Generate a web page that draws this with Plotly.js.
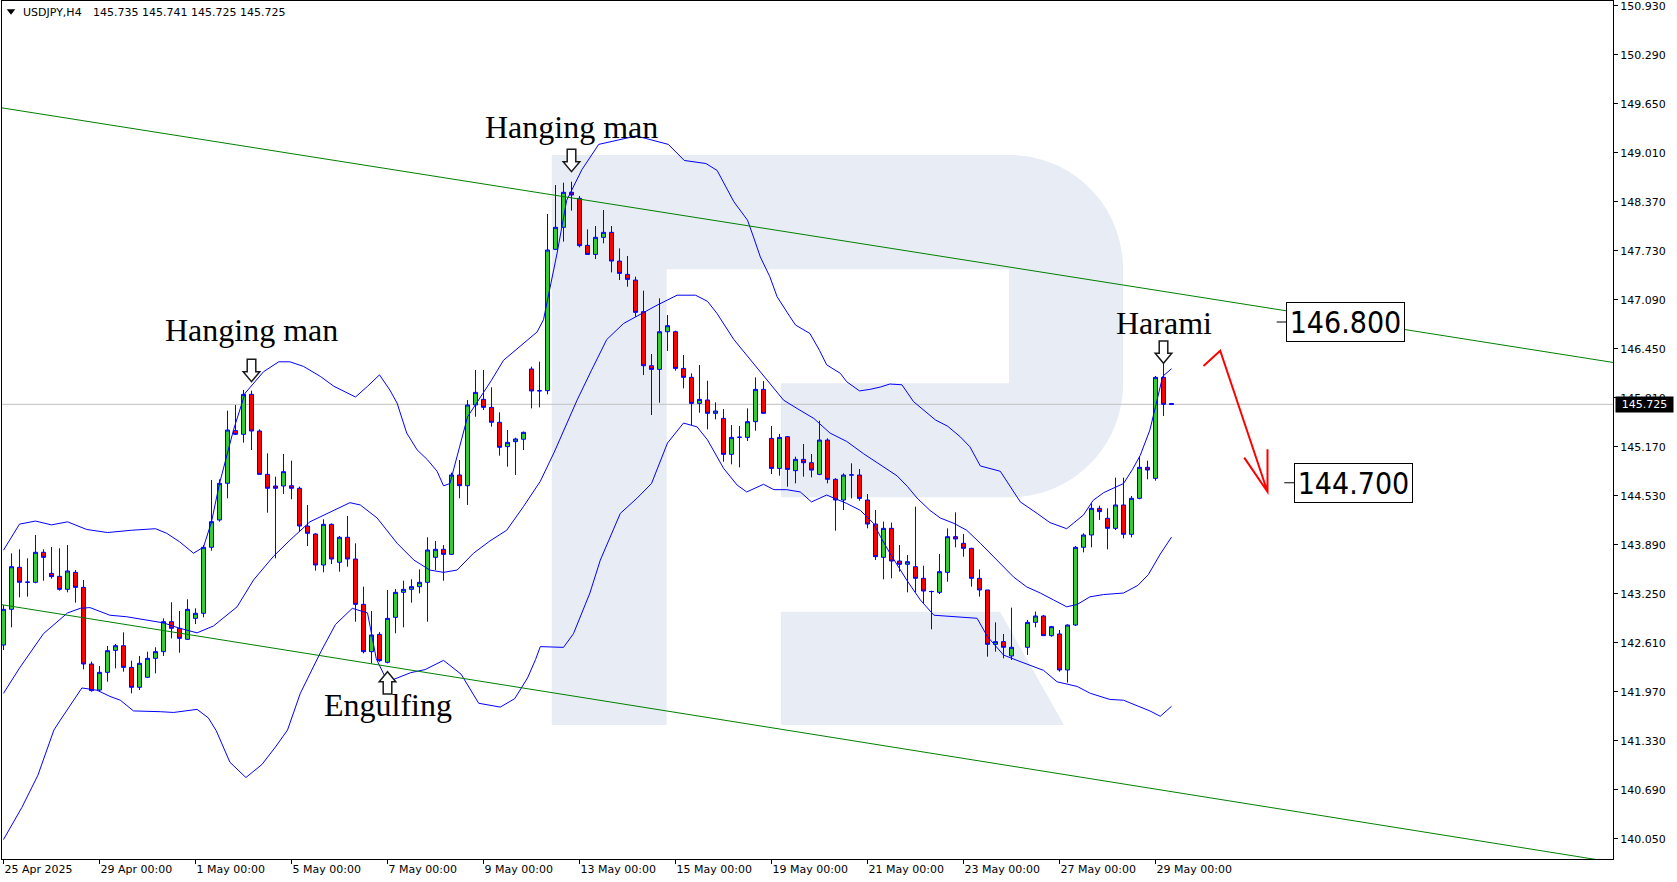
<!DOCTYPE html>
<html><head><meta charset="utf-8">
<script src="https://cdn.plot.ly/plotly-3.0.1.min.js"></script>
<style>html,body{margin:0;padding:0;background:#fff;}#chart{width:1677px;height:882px;}</style>
</head><body><div id="chart"></div>
<script>
// ---------------- DATA ----------------
const open = [
142.581,143.047,143.596,143.400,143.400,143.792,143.517,143.478,143.308,143.530,
143.334,142.333,141.993,142.224,142.511,142.572,142.289,142.028,142.159,142.407,
142.494,142.886,142.799,142.655,142.929,142.995,143.857,144.214,144.693,145.381,
145.333,145.855,145.376,144.810,144.658,144.658,144.662,144.628,144.135,144.031,
143.626,144.157,143.661,143.988,143.704,143.112,142.494,142.720,142.355,142.942,
143.269,143.308,143.343,143.400,143.726,143.831,143.765,144.802,144.662,145.716,
145.790,145.685,145.490,145.172,145.237,145.268,146.186,145.899,145.903,147.749,
148.037,148.494,148.415,147.801,147.683,147.906,147.971,147.596,147.422,147.348,
146.935,146.229,146.181,146.673,146.673,146.194,146.077,145.737,145.781,145.607,
145.541,145.071,145.293,145.293,145.498,145.920,145.280,144.888,145.302,144.858,
145.006,144.962,144.810,145.258,144.745,144.475,144.801,144.801,144.475,144.161,
143.726,144.105,143.678,143.635,143.604,143.452,143.278,143.269,143.530,143.996,
143.909,143.844,143.452,143.300,142.590,142.625,142.438,null,142.551,142.877,
142.960,142.703,142.725,142.255,142.842,143.857,144.018,144.366,144.236,144.105,
144.410,144.027,144.497,144.902,144.758,146.077,145.735];
const high = [
143.104,143.778,143.831,143.713,144.018,143.831,143.861,143.844,143.887,143.561,
143.430,142.364,142.307,142.568,142.594,142.747,142.377,142.438,142.494,142.551,
142.929,143.139,143.025,143.178,143.060,143.887,144.736,144.745,145.642,145.716,
145.912,145.903,145.398,145.085,144.780,145.076,144.989,144.650,144.410,144.040,
144.223,144.170,144.005,144.266,143.909,143.343,143.025,142.750,143.299,143.313,
143.421,143.439,143.569,143.988,143.940,143.887,144.832,144.997,145.781,146.173,
146.173,145.947,145.620,145.389,145.289,145.368,146.217,146.282,148.211,148.589,
148.620,148.633,148.446,148.010,148.054,148.263,148.054,147.762,147.662,147.392,
147.209,146.382,147.109,146.891,146.686,146.369,146.129,146.238,146.033,145.750,
145.663,145.454,145.441,145.672,146.077,146.029,145.441,145.337,145.310,145.041,
145.206,145.076,145.511,145.280,144.760,144.823,144.954,144.880,144.553,144.344,
144.192,144.179,143.887,143.757,144.388,143.617,143.291,143.770,144.105,144.314,
144.031,143.850,143.569,143.300,142.877,142.725,143.069,null,142.908,143.017,
142.973,142.830,142.777,142.850,143.874,144.040,144.432,144.401,144.366,144.767,
144.767,144.527,145.041,144.989,146.095,146.260,145.741];
const low = [
142.516,142.812,143.204,143.213,143.387,143.421,143.448,143.291,143.269,143.134,
142.263,141.972,141.972,142.102,142.276,142.233,141.950,141.993,142.150,142.211,
142.438,142.668,142.481,142.647,142.855,142.943,143.813,144.192,144.497,145.324,
145.224,145.128,144.802,144.310,143.713,144.554,144.484,144.061,143.874,143.552,
143.530,143.639,143.539,143.604,142.886,142.472,142.341,142.363,142.341,142.734,
142.812,143.134,143.256,142.886,143.561,143.421,143.757,144.497,144.410,145.563,
145.651,145.433,145.054,144.910,144.802,145.128,145.672,145.685,145.855,147.740,
147.850,148.254,147.775,147.675,147.622,147.827,147.448,147.348,147.261,146.869,
146.107,145.585,145.746,146.421,146.164,145.933,145.454,145.615,145.398,145.528,
144.975,144.941,144.901,145.245,145.380,145.600,144.814,144.793,144.649,144.692,
144.780,144.771,144.800,144.692,144.074,144.344,144.496,144.466,144.105,143.691,
143.439,143.452,143.539,143.269,143.269,143.126,142.786,143.247,143.408,143.857,
143.735,143.343,143.213,142.429,142.494,142.407,142.385,null,142.451,142.812,
142.700,142.690,142.233,142.089,142.830,143.791,143.857,144.214,143.831,144.083,
143.974,143.987,144.484,144.745,144.728,145.572,145.725];
const close = [
143.047,143.604,143.400,143.402,143.792,143.726,143.474,143.308,143.548,143.334,
142.333,141.985,142.224,142.507,142.572,142.289,142.028,142.342,142.407,142.494,
142.886,142.799,142.668,143.047,142.995,143.857,144.192,144.693,145.389,145.333,
145.855,145.376,144.810,144.628,144.628,144.845,144.628,144.135,144.040,143.626,
144.157,143.704,143.988,143.704,143.112,142.494,142.712,142.376,142.929,143.269,
143.308,143.343,143.400,143.822,143.831,143.765,144.802,144.662,145.716,145.881,
145.685,145.490,145.163,145.228,145.272,145.359,145.899,145.903,147.740,148.037,
148.494,148.459,147.797,147.683,147.906,147.971,147.596,147.435,147.357,146.926,
146.229,146.181,146.673,146.752,146.194,146.077,145.737,145.789,145.607,145.637,
145.071,145.293,145.295,145.498,145.920,145.607,144.888,145.293,144.875,145.006,
144.962,144.866,145.258,144.745,144.475,144.801,144.803,144.496,144.161,143.735,
144.105,143.678,143.635,143.669,143.452,143.286,143.280,143.539,143.996,143.966,
143.844,143.452,143.300,142.590,142.625,142.551,142.551,null,142.877,142.960,
142.703,142.821,142.255,142.842,143.857,144.018,144.366,144.323,144.105,144.410,
144.027,144.497,144.902,144.867,146.077,145.725,145.725];

// Bollinger bands (bar position, price)
const bbUpperX = [0,2,4,6,8,10.4,13,16,19,20.4,22,23.75,25,26,27,28.75,30.2,32.5,34.4,35.8,37.5,39.6,41.3,44,45.5,47,48.3,49.2,50.4,51.7,53,54.2,55,55.8,58,61,62.5,64.6,66.7,67.5,69.2,70.4,72.3,74.4,79.1,83.1,85.1,87.8,89.2,91.3,93,93.75,94.6,95.8,96.7,98.3,99,100.8,102,102.9,104.6,105.4,107,108.3,109.6,110.8,112.3,113.75,115,116.5,118,119.6,120.8,122.1,124.6,125.8,127.1,129.2,130.8,132.9,135,136.2,137.5,140,141.1,142.1,143.3,143.9,144.9,146];
const bbUpperY = [143.82,144.16,144.20,144.15,144.19,144.09,144.05,144.08,144.10,144.04,143.93,143.78,143.86,144.19,144.69,145.39,145.87,146.15,146.28,146.28,146.22,146.09,145.96,145.82,145.96,146.11,145.91,145.74,145.35,145.13,145.00,144.85,144.66,144.69,145.56,146.04,146.30,146.48,146.67,146.83,147.70,148.39,148.79,149.12,149.23,149.12,148.91,148.87,148.78,148.37,148.13,147.91,147.65,147.39,147.13,146.87,146.76,146.65,146.43,146.24,146.13,146.02,145.90,145.92,145.95,145.99,145.98,145.76,145.65,145.52,145.44,145.30,145.17,144.92,144.85,144.65,144.45,144.30,144.18,144.10,144.28,144.47,144.57,144.69,144.87,145.06,145.39,145.65,146.09,146.19];
const bbMidX = [0,2,5,8,9.6,10.8,13.3,15.4,20,22,24.2,26.25,29.2,31.25,33.75,35.8,38.3,41.3,43.3,44.6,46.7,49.2,51.3,53.3,55,56.7,58.75,60.8,62.9,65,67.1,68.8,71.7,73.5,75.4,77.5,79.6,81.7,84.2,86.5,88,89.2,91.3,93.75,95.4,97.5,99.2,101.3,103.3,105.4,107.5,109.6,111.7,113,114.2,115.8,117.1,118.8,120.4,122.1,124.2,126.25,127.9,129.6,131.25,132.9,134.2,135.8,137.5,140,141.8,143.1,144.6,146];
const bbMidY = [141.95,142.28,142.73,143.00,143.06,143.07,142.97,142.95,142.87,142.80,142.74,142.83,143.08,143.43,143.74,143.95,144.19,144.34,144.44,144.41,144.24,143.91,143.69,143.56,143.53,143.56,143.78,143.94,144.08,144.39,144.72,145.09,145.78,146.17,146.57,146.78,146.90,147.02,147.15,147.15,147.07,146.91,146.57,146.26,146.04,145.78,145.67,145.54,145.35,145.24,145.08,144.93,144.79,144.65,144.50,144.34,144.24,144.17,144.08,143.91,143.69,143.47,143.34,143.26,143.17,143.08,143.11,143.21,143.24,143.26,143.36,143.50,143.77,143.99];
const bbLowerX = [0,2.3,4.3,6.3,7.1,9.8,11.7,13.3,14.6,16.25,19.6,21.25,24.2,25.6,26.6,28.3,30.3,32.3,34,35.5,37.1,39.7,41.5,43.6,45.5,46.6,48,50.9,52.7,55,57.2,59.4,62.1,63.9,65.5,66.5,67.1,70,71.25,72.5,73.3,74.6,77.1,79.2,81,83,85,86.7,88,90,91.7,92.9,95,96.3,97.9,99.6,101,102.9,105.4,107.1,108.75,109.6,110.8,112.9,114.6,116.3,119.2,121.7,123,125,126.7,130,131.7,134.2,135.85,138.3,140,143.3,144.6,146];
const bbLowerY = [140.04,140.46,140.88,141.47,141.60,142.02,141.99,141.91,141.86,141.72,141.71,141.70,141.74,141.63,141.46,141.05,140.85,141.02,141.25,141.47,141.95,142.50,142.85,143.06,143.00,142.40,142.10,142.22,142.26,142.38,142.20,141.82,141.77,141.88,142.15,142.39,142.56,142.55,142.73,143.04,143.26,143.69,144.30,144.50,144.69,145.22,145.48,145.43,145.26,144.89,144.67,144.58,144.68,144.61,144.61,144.58,144.45,144.54,144.43,144.34,144.17,144.00,143.78,143.43,143.17,142.97,142.95,142.93,142.69,142.45,142.38,142.25,142.10,142.04,141.95,141.87,141.86,141.72,141.65,141.78];

// channel lines (end points)
const upperTrendX = [-0.2, 201.3];
const upperTrendY = [149.597, 146.270];
const lowerTrendX = [-0.2, 200];
const lowerTrendY = [143.107, 139.764];

// axis ticks
const priceTicks = [140.05,140.69,141.33,141.97,142.61,143.25,143.89,144.53,145.17,145.81,146.45,147.09,147.73,148.37,149.01,149.65,150.29,150.93];
const tickBars = [0,12,24,36,48,60,72,84,96,108,120,132,144];
const tickLabels = ['25 Apr 2025','29 Apr 00:00','1 May 00:00','5 May 00:00','7 May 00:00','9 May 00:00','13 May 00:00','15 May 00:00','19 May 00:00','21 May 00:00','23 May 00:00','27 May 00:00','29 May 00:00'];

// pattern marks
const patternNames = ['Hanging man','Hanging man','Engulfing','Harami'];
const patternBars = [31, 71, 48, 145];
const patternSide = ['high','high','low','high'];

// target levels and forecast arrow
const levelValues = [146.800, 144.700];
const levelLabels = ['146.800', '144.700'];
const levelBoxBars = [160.31, 161.35];
const levelTickBars = [159.15, 160.10];
const forecastX = [150.0, 152.09, 158.0];
const forecastY = [146.225, 146.425, 144.583];
const headX = [158.0, 158.0, 155.09];
const headY = [145.137, 144.583, 145.028];

const headerSymbol = 'USDJPY,H4';
const headerPrices = '145.735 145.741 145.725 145.725';

// ---------------- STYLE / LAYOUT ----------------
const W = 1677, H = 882, ML = 2, MR = 64, MT = 1, MB = 23;
const PW = W - ML - MR, PH = H - MT - MB;
function P(x, y) { return ((x - ML) / PW).toFixed(5) + ',' + ((H - MB - y) / PH).toFixed(5); }

const idx = open.map((_, i) => i);
const lastClose = close[close.length - 1];

const traces = [
  {
    type: 'candlestick', x: idx, open: open, high: high, low: low, close: close,
    increasing: {line: {color: '#0000FF', width: 1}, fillcolor: '#32CD32'},
    decreasing: {line: {color: '#0000FF', width: 1}, fillcolor: '#FF0000'},
    whiskerwidth: 0, hoverinfo: 'skip', showlegend: false
  },
  {type: 'scatter', mode: 'lines', x: bbUpperX, y: bbUpperY, line: {color: '#0000FF', width: 1}, hoverinfo: 'skip'},
  {type: 'scatter', mode: 'lines', x: bbMidX, y: bbMidY, line: {color: '#0000FF', width: 1}, hoverinfo: 'skip'},
  {type: 'scatter', mode: 'lines', x: bbLowerX, y: bbLowerY, line: {color: '#0000FF', width: 1}, hoverinfo: 'skip'},
  {type: 'scatter', mode: 'lines', x: upperTrendX, y: upperTrendY, line: {color: '#008000', width: 1}, hoverinfo: 'skip'},
  {type: 'scatter', mode: 'lines', x: lowerTrendX, y: lowerTrendY, line: {color: '#008000', width: 1}, hoverinfo: 'skip'}
];

// watermark "R"
const rPath =
  'M' + P(551.7,155) + ' L' + P(1010,155) +
  ' C' + P(1072.4,155) + ' ' + P(1123,205.6) + ' ' + P(1123,268) +
  ' L' + P(1123,384.3) +
  ' C' + P(1123,446.7) + ' ' + P(1072.4,497.3) + ' ' + P(1010,497.3) +
  ' L' + P(781,497.3) + ' L' + P(781,383.3) + ' L' + P(1009,383.3) + ' L' + P(1009,269.3) +
  ' L' + P(666.7,269.3) + ' L' + P(666.7,725) + ' L' + P(551.7,725) + ' Z' +
  ' M' + P(781,611.7) + ' L' + P(1000,611.7) + ' L' + P(1064,725) + ' L' + P(781,725) + ' Z';

const shapes = [
  {type: 'path', xref: 'paper', yref: 'paper', path: rPath, fillcolor: '#E8EDF5', line: {width: 0}, layer: 'below'},
  {type: 'line', xref: 'paper', yref: 'y', x0: 0, x1: 1, y0: lastClose, y1: lastClose, line: {color: '#C0C0C0', width: 1}, layer: 'below'},
  // header triangle
  {type: 'path', xref: 'paper', yref: 'paper', xsizemode: 'pixel', ysizemode: 'pixel', xanchor: 0, yanchor: 1,
   path: 'M 4.7,-8.3 L 13.3,-8.3 L 9,-13.7 Z', fillcolor: '#000', line: {width: 0}}
];

const arrowGap = [9, 10, 8.3, 0];
const textShift = [60.7, 54.7, -41.6, 40.8];
function downArrow(g) { const t = g + 22.4, m = g + 10; return `M -4.3,${t} L 4.3,${t} L 4.3,${m} L 8.3,${m} L 0,${g} L -8.3,${m} L -4.3,${m} Z`; }
function upArrow(g) { const t = -g, m = -g - 10, b = -g - 22.4; return `M -4.3,${b} L 4.3,${b} L 4.3,${m} L 8.3,${m} L 0,${t} L -8.3,${m} L -4.3,${m} Z`; }

const annotations = [];
patternBars.forEach((b, k) => {
  const isHigh = patternSide[k] === 'high';
  const anchor = isHigh ? high[b] : low[b];
  shapes.push({type: 'path', xref: 'x', yref: 'y', xsizemode: 'pixel', ysizemode: 'pixel', xanchor: b, yanchor: anchor,
    path: isHigh ? downArrow(arrowGap[k]) : upArrow(arrowGap[k]), fillcolor: '#FFFFFF', line: {color: '#1A1A1A', width: 1.5}});
  annotations.push({x: b, y: anchor, xref: 'x', yref: 'y', yshift: textShift[k], text: patternNames[k], showarrow: false,
    xanchor: 'center', yanchor: 'middle', font: {family: 'Liberation Serif, Times New Roman, serif', size: 32, color: '#000'}});
});

levelValues.forEach((v, k) => {
  shapes.push({type: 'line', xref: 'x', yref: 'y', x0: levelTickBars[k], x1: levelBoxBars[k], y0: v, y1: v, line: {color: '#000', width: 1}});
  annotations.push({x: levelBoxBars[k], y: v, xref: 'x', yref: 'y', text: levelLabels[k], showarrow: false,
    xanchor: 'left', yanchor: 'middle', width: 115, height: 36, align: 'center', valign: 'middle',
    bgcolor: '#FFFFFF', bordercolor: '#000', borderwidth: 1, borderpad: 1,
    font: {family: 'DejaVu Sans Condensed, Liberation Sans, sans-serif', size: 30, color: '#000'}});
});

// forecast arrow
let fp = 'M ' + forecastX[0] + ',' + forecastY[0];
for (let i = 1; i < forecastX.length; i++) fp += ' L ' + forecastX[i] + ',' + forecastY[i];
fp += ' M ' + headX[0] + ',' + headY[0];
for (let i = 1; i < headX.length; i++) fp += ' L ' + headX[i] + ',' + headY[i];
shapes.push({type: 'path', xref: 'x', yref: 'y', path: fp, line: {color: '#FF0000', width: 2}});

// header texts
annotations.push({xref: 'paper', yref: 'paper', x: (21.7 - ML) / PW, y: (H - MB - 12.9) / PH, text: headerSymbol, showarrow: false,
  xanchor: 'left', yanchor: 'middle', font: {family: 'DejaVu Sans', size: 11, color: '#000'}, borderpad: 0});
annotations.push({xref: 'paper', yref: 'paper', x: (91.7 - ML) / PW, y: (H - MB - 12.9) / PH, text: headerPrices, showarrow: false,
  xanchor: 'left', yanchor: 'middle', font: {family: 'DejaVu Sans', size: 11, color: '#000'}, borderpad: 0});

// current price tag on the axis (covers the neighbouring scale label, as in the original)
annotations.push({xref: 'paper', yref: 'y', x: 1, xshift: 2, y: lastClose, text: lastClose.toFixed(3), showarrow: false,
  xanchor: 'left', yanchor: 'middle', width: 55, height: 13, bgcolor: '#000', borderpad: 1,
  font: {family: 'DejaVu Sans', size: 11, color: '#FFFFFF'}});

const layout = {
  width: W, height: H,
  margin: {l: ML, r: MR, t: MT, b: MB, pad: 0},
  paper_bgcolor: '#FFFFFF', plot_bgcolor: '#FFFFFF',
  showlegend: false, hovermode: false,
  boxgap: 0.5, boxgroupgap: 0,
  font: {family: 'DejaVu Sans', size: 11, color: '#000'},
  xaxis: {
    range: [-0.1875, 201.1875], showgrid: false, zeroline: false,
    showline: true, linecolor: '#000', linewidth: 1, mirror: true,
    ticks: 'outside', ticklen: 4, tickcolor: '#000', tickwidth: 1,
    tickvals: tickBars, ticktext: tickLabels, ticklabelposition: 'outside right',
    ticklabeloverflow: 'allow',
    tickfont: {family: 'DejaVu Sans', size: 11, color: '#000'},
    rangeslider: {visible: false}, fixedrange: true
  },
  yaxis: {
    side: 'right', range: [139.7859, 150.9928], showgrid: false, zeroline: false,
    showline: true, linecolor: '#000', linewidth: 1, mirror: true,
    ticks: 'outside', ticklen: 4, tickcolor: '#000', tickwidth: 1,
    tickvals: priceTicks, ticktext: priceTicks.map(v => v.toFixed(3)),
    ticklabeloverflow: 'allow',
    tickfont: {family: 'DejaVu Sans', size: 11, color: '#000'}, fixedrange: true
  },
  shapes: shapes,
  annotations: annotations
};

Plotly.newPlot('chart', traces, layout, {displayModeBar: false, staticPlot: true});
</script>
</body></html>
